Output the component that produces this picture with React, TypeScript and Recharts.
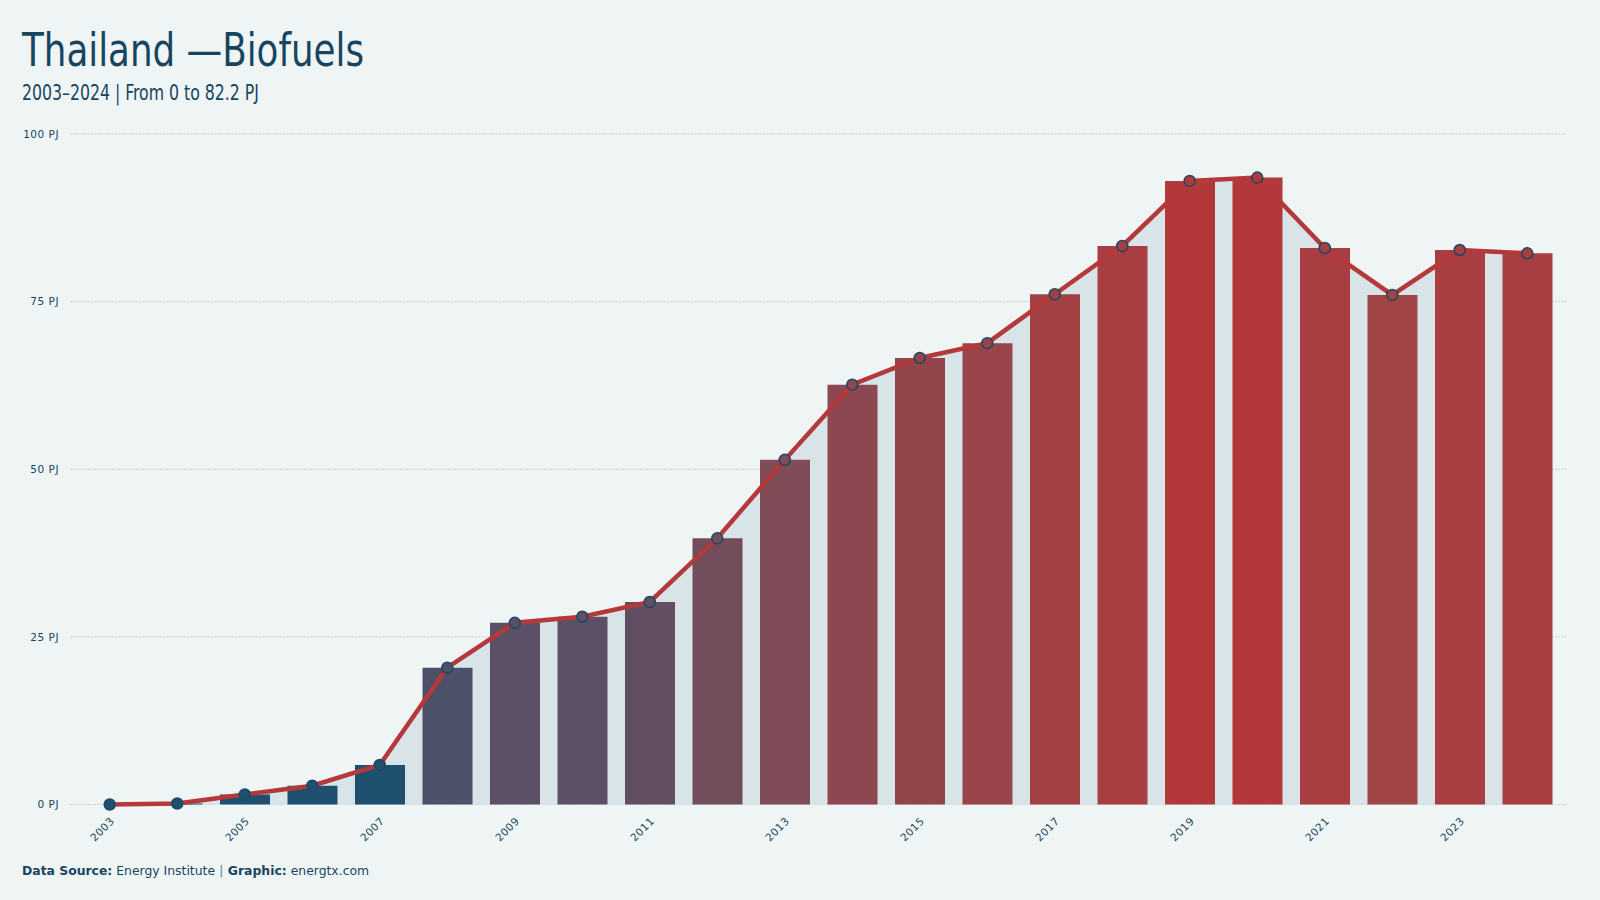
import { Area, Bar, CartesianGrid, Cell, ComposedChart, Line, XAxis, YAxis } from "recharts";

// Thailand biofuels consumption, PJ
const years = [
  "2003", "2004", "2005", "2006", "2007", "2008", "2009", "2010", "2011", "2012", "2013",
  "2014", "2015", "2016", "2017", "2018", "2019", "2020", "2021", "2022", "2023", "2024",
];
const biofuels = [
  0, 0.15, 1.5, 2.8, 5.9, 20.4, 27.1, 28.0, 30.2, 39.7, 51.4,
  62.6, 66.6, 68.8, 76.1, 83.3, 93.0, 93.5, 83.0, 76.0, 82.7, 82.2,
];
const barColors = [
  "#1f5070", "#1f5070", "#1f5070", "#1f5070", "#1f5070", "#4c5068", "#5b5066", "#5d4f65",
  "#614e63", "#724d5b", "#7f4c57", "#8c4750", "#93454c", "#98444a", "#a24144", "#a83e41",
  "#b3383a", "#b3383a", "#a83e41", "#a04446", "#a83e41", "#a83e41",
];
const yTicks = [0, 25, 50, 75, 100];

const data = years.map((year, i) => ({ year, value: biofuels[i] }));

const ink = "#17455f";
const bg = "#eff5f5";
const condensed = "'DejaVu Sans Condensed', 'DejaVu Sans', sans-serif";

const renderDot = (props: any) => {
  const { cx, cy, index } = props;
  if (cx == null || cy == null) return null;
  return (
    <circle
      key={`dot-${index}`}
      cx={cx}
      cy={cy}
      r={5.5}
      fill={barColors[index]}
      stroke="#1a4a66"
      strokeWidth={1.5}
    />
  );
};

export default function App() {
  return (
    <div style={{ position: "absolute", left: 0, top: 0, width: 1600, height: 900, background: bg }}>
      <svg width={1600} height={900} style={{ position: "absolute", left: 0, top: 0 }}>
        <text
          x={22}
          y={66}
          fill={ink}
          fontSize={46}
          fontFamily={condensed}
          textLength={342}
          lengthAdjust="spacingAndGlyphs"
        >
          Thailand —Biofuels
        </text>
        <text
          x={22}
          y={100}
          fill={ink}
          fontSize={20.5}
          fontFamily={condensed}
          textLength={237}
          lengthAdjust="spacingAndGlyphs"
        >
          2003–2024 | From 0 to 82.2 PJ
        </text>
        <text x={22} y={874.5} fill={ink} fontSize={12.4} fontFamily="'DejaVu Sans', sans-serif">
          <tspan fontWeight="bold">Data Source:</tspan>
          <tspan> Energy Institute </tspan>
          <tspan fill="#7f9bab" fontWeight="bold">|</tspan>
          <tspan fontWeight="bold"> Graphic:</tspan>
          <tspan> energtx.com</tspan>
        </text>
      </svg>
      <div style={{ position: "absolute", left: 0, top: 0 }}>
        <ComposedChart
          width={1600}
          height={900}
          data={data}
          margin={{ top: 134, right: 33, bottom: 35.5, left: 0 }}
          barSize={50}
        >
          <Area
            type="linear"
            dataKey="value"
            fill="#d8e4e8"
            fillOpacity={1}
            stroke="none"
            isAnimationActive={false}
          />
          <CartesianGrid
            vertical={false}
            stroke="#a9b8bc"
            strokeOpacity={0.55}
            strokeDasharray="2 1"
          />
          <XAxis
            dataKey="year"
            padding={{ left: 6, right: 6 }}
            height={60}
            interval={1}
            axisLine={false}
            tickLine={false}
            tickSize={0}
            tickMargin={12}
            angle={-45}
            textAnchor="end"
            tick={{ fill: ink, fontSize: 10.5, fontFamily: "'DejaVu Sans', sans-serif", letterSpacing: 0.5 }}
          />
          <YAxis
            width={70}
            domain={[0, 100]}
            ticks={yTicks}
            axisLine={false}
            tickLine={false}
            tickSize={0}
            tickMargin={11}
            tickFormatter={(v) => `${v} PJ`}
            tick={{ fill: ink, fontSize: 10.5, fontFamily: "'DejaVu Sans', sans-serif", letterSpacing: 0.5 }}
          />
          <Bar dataKey="value" isAnimationActive={false}>
            {data.map((d, i) => (
              <Cell key={d.year} fill={barColors[i]} />
            ))}
          </Bar>
          <Line
            type="linear"
            dataKey="value"
            stroke="#b5383a"
            strokeWidth={4.5}
            dot={renderDot}
            activeDot={false}
            isAnimationActive={false}
          />
        </ComposedChart>
      </div>
    </div>
  );
}
